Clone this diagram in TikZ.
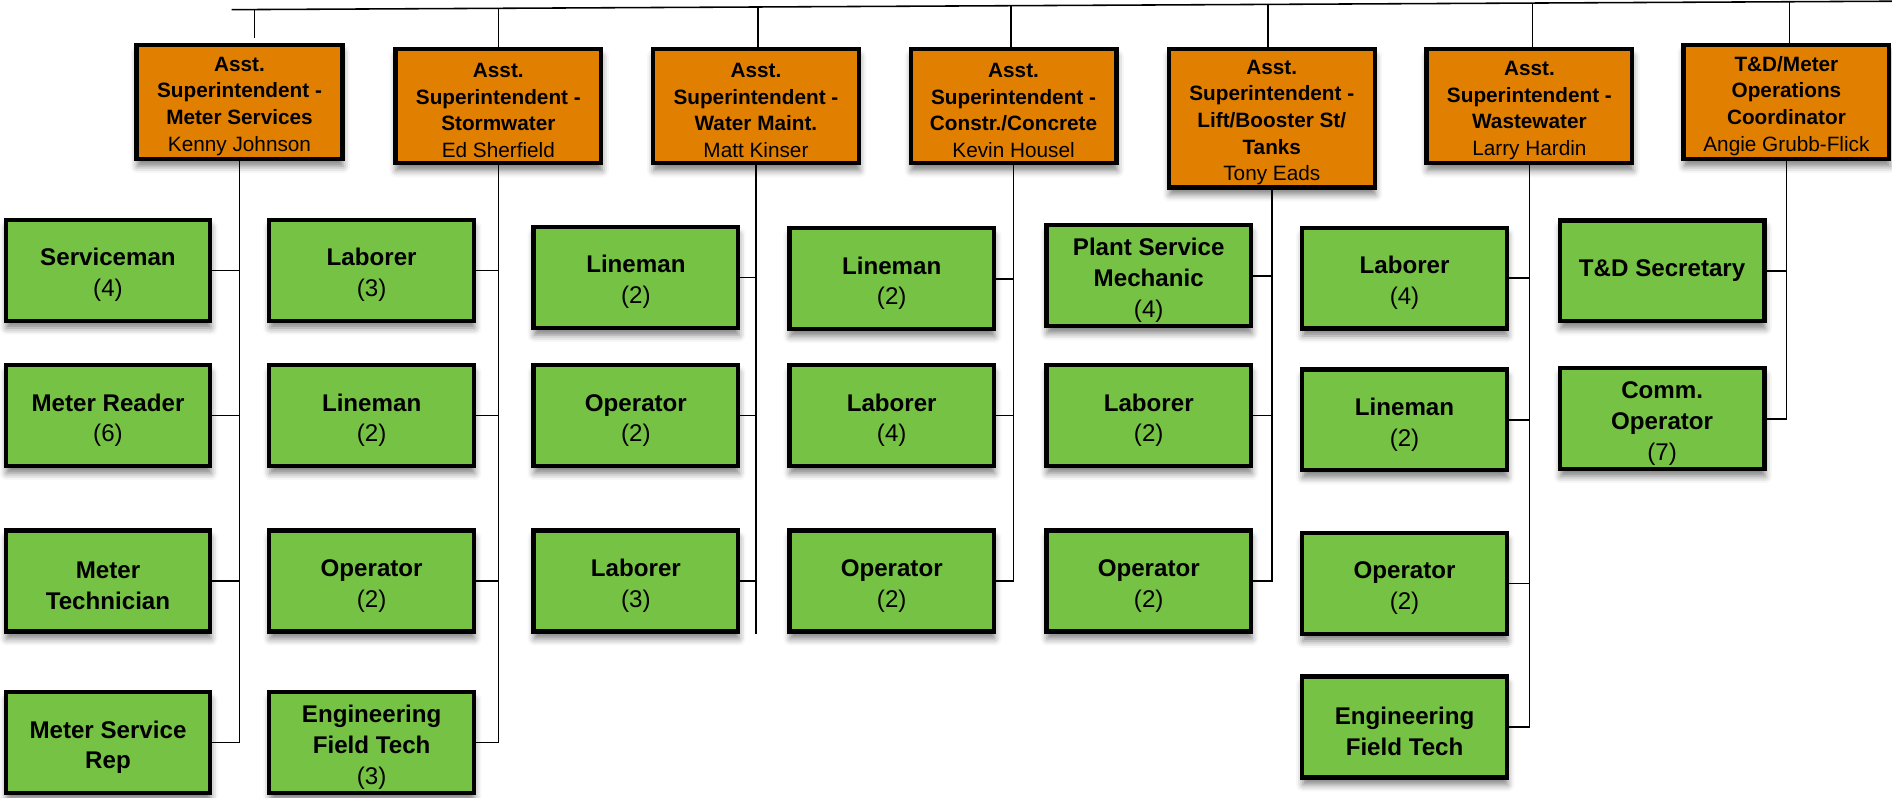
\documentclass[tikz,border=0pt]{standalone}
\usepackage{fontspec}
\setmainfont{Liberation Sans}
\usetikzlibrary{shadows.blur}
\definecolor{mgrorange}{RGB}{225,128,0}
\definecolor{staffgreen}{RGB}{118,194,68}
% extra room above the first line of a box
\newcommand\hd{\rule{0pt}{1.1em}}

\begin{document}
\begin{tikzpicture}[x=0.5pt,y=-0.5pt,
  box/.style={draw=black, line width=1.75pt, inner sep=1pt, align=center,
    blur shadow={shadow xshift=0.3pt, shadow yshift=-3pt,
                 shadow blur radius=2.8pt, shadow opacity=50}},
  mgr/.style={box, fill=mgrorange, minimum width=85.3pt, minimum height=47.3pt,
    font=\fontsize{8.6}{11}\selectfont\bfseries},
  staff/.style={box, fill=staffgreen, minimum width=84.8pt, minimum height=41.8pt,
    font=\fontsize{10}{12.8}\selectfont\bfseries},
  link/.style={draw=black, line width=0.65pt}]

\useasboundingbox (0,0) rectangle (1568,661);

% managers
\node[mgr] (o1) at (198.5,84.5) {\hd Asst.\\Superintendent -\\Meter Services\\\mdseries Kenny Johnson};
\node[mgr] (o2) at (413,88) {\hd Asst.\\Superintendent -\\Stormwater\\\mdseries Ed Sherfield};
\node[mgr] (o3) at (626.5,88) {\hd Asst.\\Superintendent -\\Water Maint.\\\mdseries Matt Kinser};
\node[mgr] (o4) at (840,88) {\hd Asst.\\Superintendent -\\Constr./Concrete\\\mdseries Kevin Housel};
\node[mgr, minimum height=57.3pt] (o5) at (1054,98) {\hd Asst.\\Superintendent -\\Lift/Booster St/\\Tanks\\\mdseries Tony Eads};
\node[mgr] (o6) at (1267.5,88) {\hd Asst.\\Superintendent -\\Wastewater\\\mdseries Larry Hardin};
\node[mgr] (o7) at (1480.5,84.5) {\hd T\&D/Meter\\Operations\\Coordinator\\\mdseries Angie Grubb-Flick};

% staff, column 1
\node[staff] (c1a) at (89.5,224) {\hd Serviceman\\\mdseries (4)};
\node[staff] (c1b) at (89.5,344.5) {\hd Meter Reader\\\mdseries (6)};
\node[staff] (c1c) at (89.5,481.5) {\hd Meter\\Technician};
\node[staff] (c1d) at (89.5,615.5) {\hd Meter Service\\Rep};
% column 2
\node[staff] (c2a) at (308,224) {\hd Laborer\\\mdseries (3)};
\node[staff] (c2b) at (308,344.5) {\hd Lineman\\\mdseries (2)};
\node[staff] (c2c) at (308,481.5) {\hd Operator\\\mdseries (2)};
\node[staff] (c2d) at (308,615.5) {\hd Engineering\\Field Tech\\\mdseries (3)};
% column 3
\node[staff] (c3a) at (527,230) {\hd Lineman\\\mdseries (2)};
\node[staff] (c3b) at (527,344.5) {\hd Operator\\\mdseries (2)};
\node[staff] (c3c) at (527,481.5) {\hd Laborer\\\mdseries (3)};
% column 4
\node[staff] (c4a) at (739,231) {\hd Lineman\\\mdseries (2)};
\node[staff] (c4b) at (739,344.5) {\hd Laborer\\\mdseries (4)};
\node[staff] (c4c) at (739,481.5) {\hd Operator\\\mdseries (2)};
% column 5
\node[staff] (c5a) at (952,228.5) {\hd Plant Service\\Mechanic\\\mdseries (4)};
\node[staff] (c5b) at (952,344.5) {\hd Laborer\\\mdseries (2)};
\node[staff] (c5c) at (952,481.5) {\hd Operator\\\mdseries (2)};
% column 6
\node[staff] (c6a) at (1164,230.5) {\hd Laborer\\\mdseries (4)};
\node[staff] (c6b) at (1164,348) {\hd Lineman\\\mdseries (2)};
\node[staff] (c6c) at (1164,483.5) {\hd Operator\\\mdseries (2)};
\node[staff] (c6d) at (1164,602.5) {\hd Engineering\\Field Tech};
% column 7
\node[staff] (c7a) at (1377.5,224.5) {T\&D Secretary};
\node[staff] (c7b) at (1377.5,347) {\hd Comm.\\Operator\\\mdseries (7)};

% top bus and drops to each manager
\coordinate (busL) at (192,8);
\coordinate (busR) at (1568,1);
\draw[link] (busL) -- (busR);
\coordinate (t1) at (211,7.9);
\coordinate (t2) at (413,6.9);
\coordinate (t3) at (628,5.8);
\coordinate (t4) at (838,4.7);
\coordinate (t5) at (1051,3.6);
\coordinate (t6) at (1270,2.5);
\coordinate (t7) at (1483,1.4);
\draw[link] (t1) -- ([yshift=2pt]t1 |- o1.north);
\foreach \i in {2,...,7} \draw[link] (t\i) -- (t\i |- o\i.north);

% trunks and branches
\draw[link] (o1.south) |- (c1d.east);
\foreach \n in {c1a,c1b,c1c} \draw[link] (\n.east) -- (\n.east -| o1.south);
\draw[link] (o2.south) |- (c2d.east);
\foreach \n in {c2a,c2b,c2c} \draw[link] (\n.east) -- (\n.east -| o2.south);
\coordinate (end3) at (0,525);
\draw[link] (o3.south) -- (o3.south |- end3);
\foreach \n in {c3a,c3b,c3c} \draw[link] (\n.east) -- (\n.east -| o3.south);
\draw[link] (o4.south) |- (c4c.east);
\foreach \n in {c4a,c4b} \draw[link] (\n.east) -- (\n.east -| o4.south);
\draw[link] (o5.south) |- (c5c.east);
\foreach \n in {c5a,c5b} \draw[link] (\n.east) -- (\n.east -| o5.south);
\draw[link] (o6.south) |- (c6d.east);
\foreach \n in {c6a,c6b,c6c} \draw[link] (\n.east) -- (\n.east -| o6.south);
\draw[link] (o7.south) |- (c7b.east);
\draw[link] (c7a.east) -- (c7a.east -| o7.south);
\end{tikzpicture}
\end{document}
